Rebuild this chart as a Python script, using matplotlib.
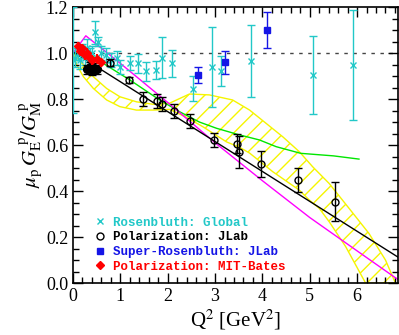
import matplotlib
matplotlib.use('Agg')
import matplotlib.pyplot as plt
from matplotlib.ticker import MultipleLocator
from matplotlib.lines import Line2D
import numpy as np

plt.rcParams['font.family'] = 'Liberation Serif'
plt.rcParams['mathtext.fontset'] = 'stix'
plt.rcParams['hatch.linewidth'] = 1.0

# Rosenbluth: Global
ros_q2 = [0.01, 0.05, 0.1, 0.15, 0.2, 0.25, 0.3, 0.35, 0.4, 0.46, 0.53, 0.6, 0.7, 0.8, 0.92,
          1.0, 1.2, 1.37, 1.55, 1.76, 1.87, 2.1, 2.54, 2.94, 3.13, 3.75, 5.07, 5.91]
ros_r = [0.97, 0.98, 1.0, 0.97, 1.01, 0.98, 1.02, 0.99, 1.0, 1.09, 1.05, 1.0, 0.99, 0.97, 0.978,
         0.94, 0.955, 0.955, 0.92, 0.925, 0.98, 0.955, 0.845, 0.94, 0.92, 0.965, 0.906, 0.949]
ros_err = [0.23, 0.04, 0.03, 0.04, 0.03, 0.03, 0.04, 0.03, 0.03, 0.05, 0.02, 0.03, 0.03, 0.03, 0.03,
           0.03, 0.03, 0.04, 0.04, 0.04, 0.09, 0.06, 0.055, 0.175, 0.065, 0.157, 0.17, 0.24]

# Polarization: JLab
pol_q2 = [0.3, 0.35, 0.4, 0.45, 0.5, 0.79, 1.18, 1.48, 1.77, 1.88, 2.13, 2.47, 2.97, 3.47, 3.5, 3.97, 4.75, 5.54]
pol_r = [0.93, 0.94, 0.925, 0.935, 0.93, 0.957, 0.883, 0.80, 0.79, 0.777, 0.747, 0.703, 0.622, 0.606, 0.571, 0.517, 0.45, 0.354]
pol_err = [0.02, 0.02, 0.02, 0.02, 0.02, 0.015, 0.015, 0.03, 0.03, 0.03, 0.03, 0.03, 0.03, 0.04, 0.07, 0.055, 0.052, 0.085]

# Super-Rosenbluth: JLab
sr_q2 = [2.64, 3.2, 4.1]
sr_r = [0.903, 0.961, 1.099]
sr_err = [0.035, 0.05, 0.078]

# Polarization: MIT-Bates
mit_q2 = [0.1, 0.15, 0.2, 0.25, 0.3, 0.35, 0.4, 0.5, 0.6]
mit_r = [1.03, 1.01, 1.02, 0.99, 1.0, 0.98, 0.97, 0.975, 0.96]
mit_err = [0.02, 0.02, 0.02, 0.02, 0.02, 0.02, 0.02, 0.02, 0.02]

# theory curves
mag_q2 = [0.0, 0.27, 1.0, 2.0, 3.0, 4.0, 5.0, 6.0, 6.9]
mag_r = [1.0, 1.075, 0.955, 0.785, 0.61, 0.445, 0.285, 0.14, 0.01]
grn_q2 = [0.0, 0.3, 0.6, 1.2, 1.8, 2.25, 2.67, 3.03, 3.5, 3.94, 4.29, 4.81, 5.5, 6.04]
grn_r = [1.0, 1.005, 0.96, 0.883, 0.80, 0.745, 0.70, 0.673, 0.645, 0.622, 0.593, 0.564, 0.553, 0.539]
band_up_q2 = [0, 0.08, 0.22, 0.43, 0.71, 0.99, 1.34, 1.7, 2.04, 2.46, 2.88, 3.37, 3.73, 4.08, 4.43,
              4.78, 5.06, 5.41, 5.83, 6.25, 6.6, 6.81]
band_up = [1.0, 0.98, 0.948, 0.897, 0.846, 0.81, 0.788, 0.777, 0.782, 0.822, 0.818, 0.796, 0.752, 0.694,
           0.636, 0.571, 0.506, 0.433, 0.325, 0.216, 0.10, 0.0]
band_lo_q2 = [0, 0.08, 0.22, 0.43, 0.71, 0.99, 1.34, 1.7, 2.04, 2.4, 2.74, 3.24, 3.52, 3.73, 4.22,
              4.78, 4.99, 5.2, 5.41, 5.76, 6.18]
band_lo = [1.0, 0.948, 0.897, 0.846, 0.796, 0.767, 0.752, 0.752, 0.755, 0.72, 0.68, 0.614, 0.59, 0.565,
           0.484, 0.404, 0.361, 0.325, 0.267, 0.158, 0.0]

fit_q2 = np.array([0.0, 6.9])

cyan = '#22c8c8'
blue = '#1515e6'
red = '#ff0000'
yellow = '#f5f500'

fig = plt.figure(figsize=(3.99, 3.35), dpi=100)
ax = fig.add_axes([0.183, 0.155, 0.814, 0.824])

# yellow hatched band
bx = np.concatenate([band_up_q2, band_lo_q2[::-1]])
by = np.concatenate([band_up, band_lo[::-1]])
ax.fill(bx, by, facecolor='none', edgecolor=yellow, hatch='//', lw=1.0, zorder=1)

ax.plot(grn_q2, grn_r, color='#00e600', lw=1.0, zorder=2)
ax.plot(mag_q2, mag_r, color='#ff00ff', lw=1.0, zorder=2)
ax.plot(fit_q2, 1 - 0.13 * (fit_q2 - 0.04), color='k', lw=1.0, zorder=2)
ax.axhline(1.0, color='#444444', lw=1.0, ls=(0, (2.5, 4)), zorder=1)

ax.errorbar(ros_q2, ros_r, yerr=ros_err, fmt='x', color=cyan, ms=4.5, mew=1.0,
            elinewidth=1.0, capsize=3, zorder=3)
ax.errorbar(pol_q2, pol_r, yerr=pol_err, fmt='o', color='k', mfc='none', ms=5, mew=1.0,
            elinewidth=1.0, capsize=3, zorder=4)
ax.plot(pol_q2[:5], pol_r[:5], 'o', color='k', ms=5.5, zorder=4)
ax.errorbar(sr_q2, sr_r, yerr=sr_err, fmt='s', color=blue, ms=4.5, mew=1.0,
            elinewidth=1.0, capsize=3, zorder=4)
ax.errorbar(mit_q2, mit_r, yerr=mit_err, fmt='D', color=red, ms=4.5, mew=1.0,
            elinewidth=1.5, capsize=0, zorder=5)

ax.set_xlim(0, 6.86)
ax.set_ylim(0, 1.2)
ax.xaxis.set_major_locator(MultipleLocator(1))
ax.xaxis.set_minor_locator(MultipleLocator(0.2))
ax.yaxis.set_major_locator(MultipleLocator(0.2))
ax.yaxis.set_minor_locator(MultipleLocator(0.05))
ax.tick_params(which='both', direction='in', top=True, right=True, labelsize=13, width=1.0)
ax.tick_params(which='major', length=7)
ax.tick_params(which='minor', length=4)
ax.set_yticklabels(['%.1f' % v for v in ax.get_yticks()])
for sp in ax.spines.values():
    sp.set_linewidth(1.2)

ax.set_xlabel(r'Q$^2$ [GeV$^2$]', fontsize=15, labelpad=2)
ax.set_ylabel(r'$\mu_{\rm p}\,G_{\rm E}^{\rm\ p}/G_{\rm M}^{\rm\ p}$', fontsize=15, labelpad=1)

handles = [Line2D([], [], ls='none', marker='x', color=cyan, ms=4.5, mew=1.0),
           Line2D([], [], ls='none', marker='o', color='k', mfc='none', ms=5, mew=1.0),
           Line2D([], [], ls='none', marker='s', color=blue, ms=4.5),
           Line2D([], [], ls='none', marker='D', color=red, ms=4.5)]
labels = ['Rosenbluth: Global', 'Polarization: JLab', 'Super-Rosenbluth: JLab', 'Polarization: MIT-Bates']
leg = ax.legend(handles, labels, loc='lower left', bbox_to_anchor=(0.045, 0.01), frameon=False,
                handlelength=0.8, handletextpad=0.6, labelspacing=0.22, borderaxespad=0.2,
                prop={'family': 'Liberation Mono', 'weight': 'bold', 'size': 9})
for txt, c in zip(leg.get_texts(), [cyan, 'k', blue, red]):
    txt.set_color(c)

fig.savefig('out.png', dpi=100)
